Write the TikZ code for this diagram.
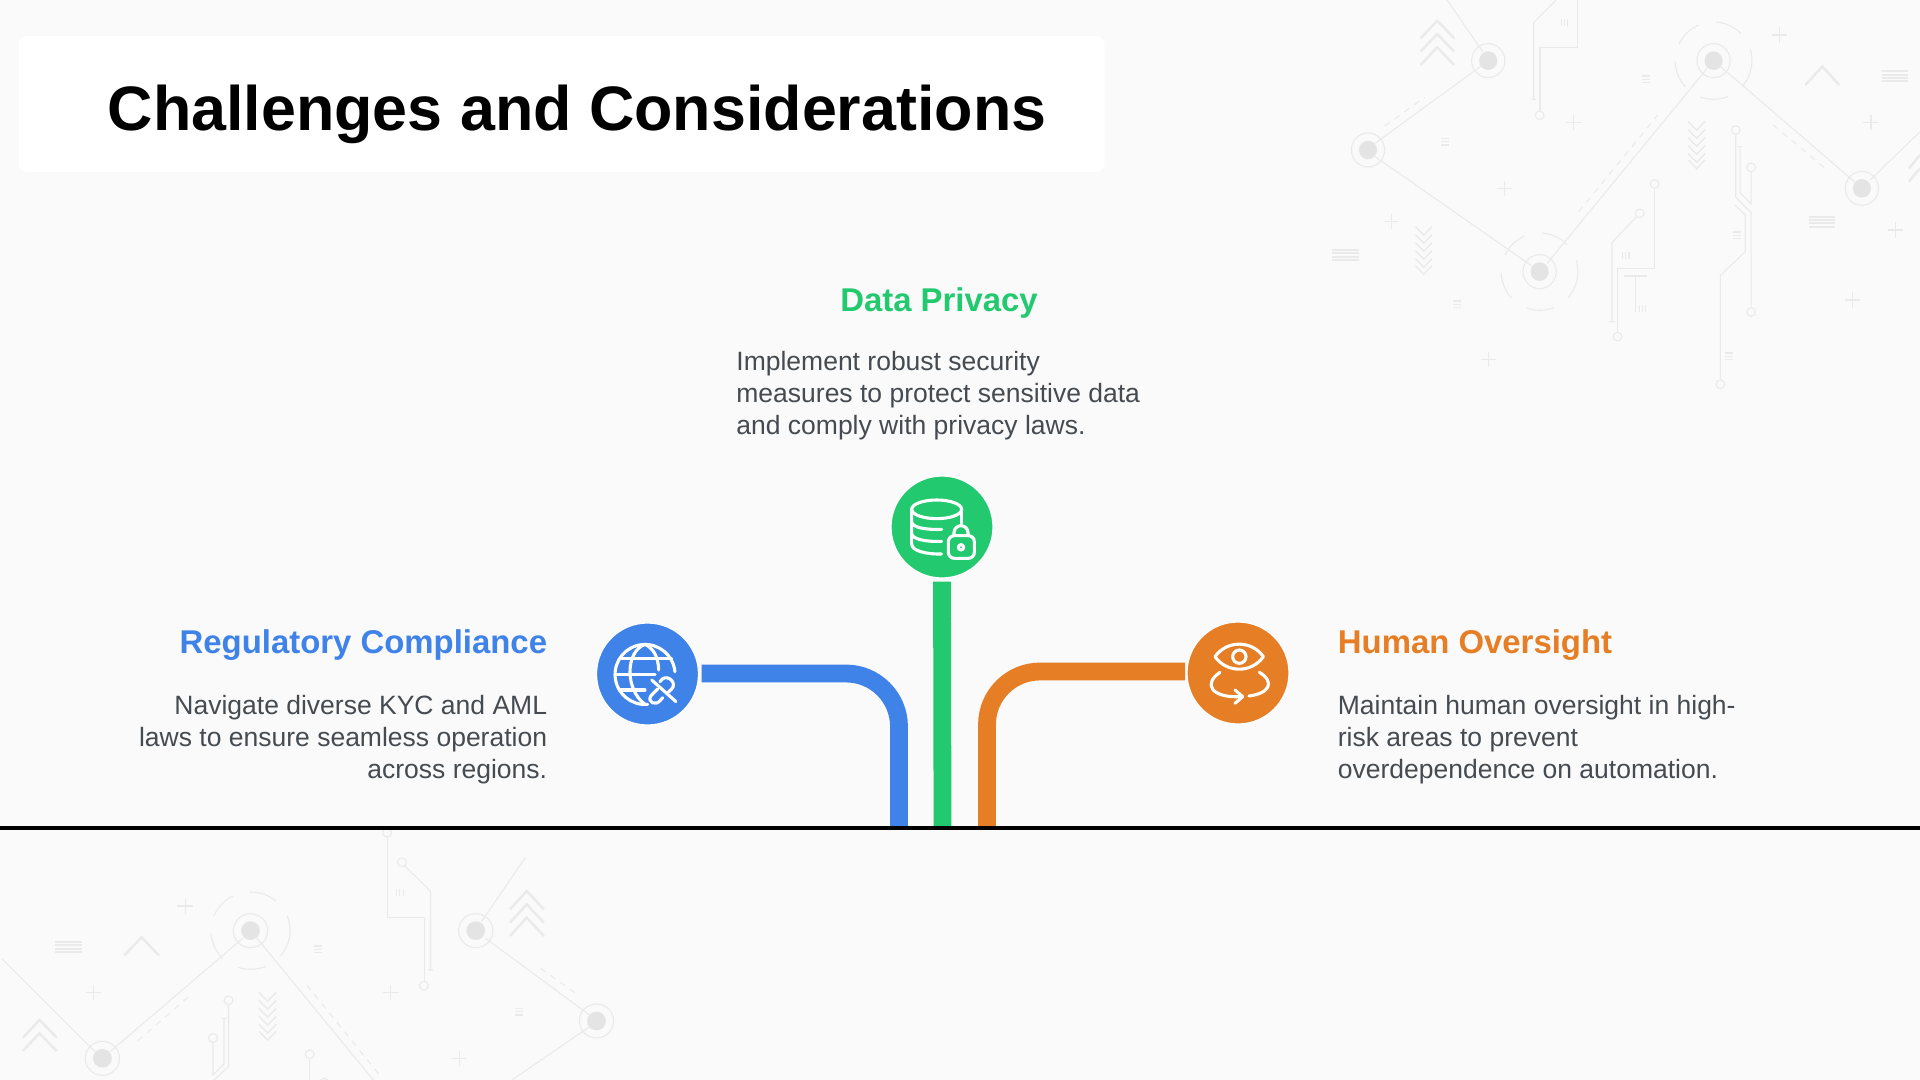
\documentclass[tikz,border=0pt]{standalone}
\usepackage{fontspec}
\setmainfont{Liberation Sans}
\definecolor{bgc}{HTML}{FAFAFA}
\definecolor{bluec}{HTML}{3F82E8}
\definecolor{greenc}{HTML}{22C96F}
\definecolor{orangec}{HTML}{E57E25}
\definecolor{bodyc}{HTML}{454B50}
\definecolor{decl}{HTML}{EAEAEA}
\definecolor{decd}{HTML}{E4E4E4}
\newcommand{\hubm}[2]{\fill[decd] (#1,#2) ellipse [x radius=23,y radius=28];\draw[decline] (#1,#2) ellipse [x radius=42,y radius=51];}
\newcommand{\ringm}[2]{\draw[decline,dash pattern=on 14pt off 9pt] (#1,#2) ellipse [x radius=97,y radius=116];}
\newcommand{\plusm}[2]{\draw[decline] (#1-19,#2) -- (#1+19,#2) (#1,#2-23) -- (#1,#2+23);}
\newcommand{\pinm}[2]{\draw[decline] (#1,#2) ellipse [x radius=11,y radius=13];}
\newcommand{\bigbars}[2]{\foreach \dy in {-15,-5,5,15}{\draw[decline,line width=.9pt] (#1-33,#2+\dy) -- (#1+33,#2+\dy);}}
\newcommand{\smallbars}[2]{\foreach \dy in {-10,0,10}{\draw[decline] (#1-10,#2+\dy) -- (#1+10,#2+\dy);}}
\newcommand{\vbars}[2]{\foreach \dx in {-8,0,8}{\draw[decline] (#1+\dx,#2-11) -- (#1+\dx,#2+11);}}
\newcommand{\caretm}[2]{\draw[decline,line width=1.2pt] (#1-43,#2+55) -- (#1,#2) -- (#1+43,#2+55);}
\newcommand{\chevd}[2]{\draw[decline,line width=.7pt] (#1-21,#2) -- (#1,#2+26) -- (#1+21,#2);}
\tikzset{
  decline/.style={draw=decl,line width=.55pt},
  iconline/.style={draw=white,line width=1.55pt,line cap=round,line join=round},
  disc/.style={circle,minimum size=51pt,inner sep=0pt,draw=white,line width=.6pt},
  conn/.style={line width=8.9pt},
  headtxt/.style={font=\bfseries\fontsize{16.45pt}{20pt}\selectfont,inner sep=0pt},
  bodytxt/.style={font=\fontsize{13.25pt}{15.85pt}\selectfont,text=bodyc,inner sep=0pt}
}
\begin{document}
\begin{tikzpicture}[x=0.5pt,y=-0.5pt]
\useasboundingbox (0,0) rectangle (1920,1080);
\begin{scope}
\clip (0,0) rectangle (1920,1080);
\fill[bgc] (0,0) rectangle (1920,1080);
% top-right decoration
\begin{scope}[shift={(1300,0)},xscale=.3954,yscale=.3333]
\ringm{606}{815}\ringm{1046}{182}
\hubm{476}{182}\hubm{172}{450}\hubm{606}{815}\hubm{1046}{182}\hubm{1421}{565}
\draw[decline] (372,0) -- (462,155) (458,198) -- (190,430) (190,470) -- (585,797) (625,790) -- (1030,205) (1062,198) -- (1402,545) (1442,540) -- (1568,395);
\draw[decline,dashed] (215,378) -- (315,292) (705,635) -- (905,345) (1197,375) -- (1335,512);
\foreach \yy in {62,102,142}{\draw[decline,line width=1.2pt] (305,\yy+53) -- (347,\yy) -- (390,\yy+53);}
\caretm{1321}{200}
\draw[decline] (648,0) -- (591,68) -- (591,298) (585,298) -- (597,298);
\draw[decline] (701,0) -- (701,142) -- (607,142) -- (607,333);\pinm{606}{346}
\draw[decline] (897,565) -- (897,805) -- (803,805) -- (803,997);\pinm{897}{552}\pinm{803}{1010}
\draw[decline] (851,650) -- (789,728) -- (789,965) (781,965) -- (797,965);\pinm{859}{640}
\draw[decline] (820,828) -- (878,828) (849,828) -- (849,935);
\draw[decline] (1102,403) -- (1102,592) -- (1141,638) -- (1141,922);\pinm{1102}{390}\pinm{1141}{936}
\draw[decline] (1141,515) -- (1141,612) -- (1113,578) -- (1113,440) (1107,440) -- (1119,440);\pinm{1141}{502}
\draw[decline] (1100,615) -- (1126,645) -- (1126,755) -- (1063,827) -- (1063,1140);\pinm{1063}{1153}
\draw[decline,line width=1.2pt] (1568,465) -- (1540,505) (1568,505) -- (1540,545);
\vbars{669}{67}\vbars{824}{767}\vbars{866}{925}
\smallbars{876}{238}\smallbars{367}{425}\smallbars{398}{913}\smallbars{1104}{706}\smallbars{1084}{1069}
\bigbars{1505}{229}\bigbars{1321}{665}\bigbars{115}{765}
\plusm{1212}{105}\plusm{692}{368}\plusm{1444}{367}\plusm{518}{565}\plusm{232}{665}\plusm{1505}{690}\plusm{1398}{900}\plusm{477}{1078}
\foreach \yy in {365,389,413,437,461,480}{\chevd{1003}{\yy}}
\foreach \yy in {680,704,728,752,776,797}{\chevd{313}{\yy}}
\end{scope}
% bottom-left decoration
\begin{scope}[shift={(0,810)},xscale=.408,yscale=.3333]
\ringm{614}{362}
\hubm{614}{362}\hubm{251}{745}\hubm{1166}{362}\hubm{1462}{633}
\draw[decline] (5,447) -- (235,728) (270,725) -- (595,385) (630,385) -- (915,810) (1288,142) -- (1180,335) (1190,385) -- (1445,615) (1445,650) -- (1255,810);
\draw[decline,dashed] (338,692) -- (470,552) (752,525) -- (930,795) (1325,475) -- (1420,558);
\foreach \yy in {243,283,323}{\draw[decline,line width=1.2pt] (1250,\yy+55) -- (1291,\yy) -- (1333,\yy+55);}
\foreach \yy in {630,670}{\draw[decline,line width=1.2pt] (56,\yy+53) -- (97,\yy) -- (139,\yy+53);}
\caretm{347}{382}
\bigbars{169}{411}
\smallbars{779}{418}\smallbars{1271}{605}
\vbars{980}{247}
\plusm{454}{288}\plusm{229}{548}\plusm{958}{548}\plusm{1126}{745}
\foreach \yy in {547,571,595,619,643,664}{\chevd{656}{\yy}}
\draw[decline] (949,81) -- (949,323) -- (1040,323) -- (1040,515);\pinm{949}{68}\pinm{1039}{527}
\draw[decline] (992,168) -- (1055,243) -- (1055,480) (1049,480) -- (1061,480);\pinm{985}{157}
\draw[decline] (560,584) -- (560,770) -- (525,810);\pinm{560}{571}
\draw[decline] (522,697) -- (522,795) -- (549,762) -- (549,625) (543,625) -- (555,625);\pinm{522}{684}
\draw[decline] (759,746) -- (759,810);\pinm{759}{733}
\pinm{795}{818}
\end{scope}
\end{scope}
% title
\node[fill=white,rounded corners=4pt,minimum width=543pt,minimum height=68pt,inner sep=0pt] (titlebox) at (561.5,104) {};
\node[font=\bfseries\fontsize{31.4pt}{38pt}\selectfont,inner sep=0pt] (titletxt) at (577,114) {Challenges and Considerations};
% discs
\node[disc,fill=bluec] (blue) at (647.5,674) {};
\node[disc,fill=greenc] (green) at (942,527) {};
\node[disc,fill=orangec] (orange) at (1238,673) {};
% bus ends
\coordinate (busB) at (899,827);
\coordinate (busG) at (942.5,827);
\coordinate (busO) at (987,827);
\draw[conn,draw=bluec,rounded corners=26.5pt] ([xshift=1.2pt,yshift=.25pt]blue.east) -| (busB);
\draw[conn,draw=greenc] ([yshift=-1.5pt]green.south) -- (busG);
\draw[conn,draw=orangec,rounded corners=26.5pt] ([xshift=-.6pt,yshift=.75pt]orange.west) -| (busO);
% baseline
\node[fill=black,minimum width=960pt,minimum height=1.8pt,inner sep=0pt] (baseline) at (960,827.8) {};
% green icon
\begin{scope}[shift={(880,470)},scale=.3333]
\draw[iconline] (170,118) ellipse [x radius=75,y radius=28];
\draw[iconline] (95,118) -- (95,222) .. controls (95,242) and (135,253) .. (185,252);
\draw[iconline] (95,155) .. controls (95,172) and (135,180) .. (185,178);
\draw[iconline] (95,190) .. controls (95,207) and (135,216) .. (185,214);
\draw[iconline] (245,118) -- (245,160);
\draw[iconline,rounded corners=3pt] (205,197) rectangle (283,265);
\draw[iconline] (222,197) -- (222,188) arc (180:360:21) -- (264,197);
\draw[iconline] (243,232) circle (8);
\end{scope}
% blue icon
\begin{scope}[shift={(590,615)},scale=.3333]
\draw[iconline] (173,268) arc (85:355:90);
\draw[iconline] (165,88) .. controls (105,110) and (105,225) .. (165,268);
\draw[iconline] (165,88) .. controls (190,100) and (205,125) .. (206,165);
\draw[iconline] (90,130) -- (245,130);
\draw[iconline] (75,178) -- (195,178);
\draw[iconline] (88,225) -- (165,225);
\draw[iconline] (185,195) -- (258,260);
\draw[iconline] (203,222) -- (183,242) .. controls (170,262) and (198,275) .. (212,255) -- (218,248);
\draw[iconline] (210,200) -- (217,192) .. controls (235,178) and (262,205) .. (245,222) -- (235,232);
\end{scope}
% orange icon
\begin{scope}[shift={(1180,615)},scale=.3333]
\draw[iconline] (105,125) .. controls (140,75) and (215,75) .. (250,125) .. controls (215,175) and (140,175) .. (105,125) -- cycle;
\draw[iconline] (178,125) circle (20);
\draw[iconline] (120,172) .. controls (70,205) and (90,250) .. (185,245);
\draw[iconline] (165,225) -- (188,245) -- (165,265);
\draw[iconline] (238,172) .. controls (285,200) and (270,235) .. (207,243);
\end{scope}
% texts
\node[headtxt,text=greenc] (gh) at (939,302.5) {Data Privacy};
\node[bodytxt,align=left,anchor=west] (gb) at (736,395.5) {Implement robust security\\measures to protect sensitive data\\and comply with privacy laws.};
\node[headtxt,text=bluec,anchor=east] (bh) at (547.5,645.5) {Regulatory Compliance};
\node[bodytxt,align=right,anchor=east] (bb) at (547.5,739.5) {Navigate diverse KYC and AML\\laws to ensure seamless operation\\across regions.};
\node[headtxt,text=orangec,anchor=west] (oh) at (1337.5,645.5) {Human Oversight};
\node[bodytxt,align=left,anchor=west] (ob) at (1337.5,739.5) {Maintain human oversight in high-\\risk areas to prevent\\overdependence on automation.};
\end{tikzpicture}
\end{document}
